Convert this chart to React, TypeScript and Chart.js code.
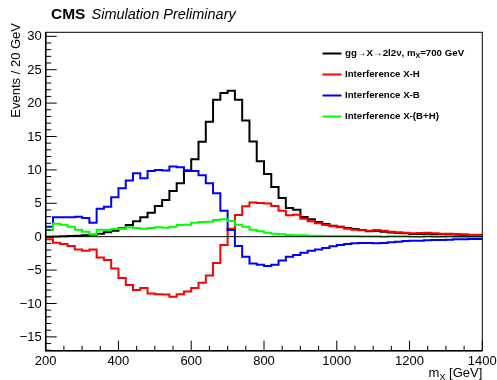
import { useEffect, useRef } from 'react';
import { Chart, registerables } from 'chart.js';

Chart.register(...registerables);

const X_MIN = 200;
const X_MAX = 1400;
const BIN_WIDTH = 20;
const Y_MIN = -17.07;
const Y_MAX = 30.6;

const X_MAJOR_TICKS = [200, 400, 600, 800, 1000, 1200, 1400];
const X_TICK_LABELS = ['200', '400', '600', '800', '1000', '1200', '1400'];
const X_MINOR_STEP = 50;
const Y_MAJOR_TICKS = [-15, -10, -5, 0, 5, 10, 15, 20, 25, 30];
const Y_TICK_LABELS = ['\u221215', '\u221210', '\u22125', '0', '5', '10', '15', '20', '25', '30'];
const Y_MINOR_STEP = 1;

const LEGEND_LABELS = ['gg\u2192X\u21922l2\u03bd, m', 'Interference X-H', 'Interference X-B', 'Interference X-(B+H)'];

// 60 bins of 20 GeV, 200-1400 GeV
const signal = [
  0.0, 0.02, 0.05, 0.1, 0.15, 0.2, 0.3, 0.45, 0.65, 0.9,
  1.25, 1.75, 2.3, 2.9, 3.6, 4.6, 5.5, 6.85, 8.0, 9.85,
  11.6, 14.2, 17.2, 20.5, 21.5, 21.85, 20.5, 17.4, 14.25, 11.3,
  9.4, 7.45, 5.8, 4.3, 4.05, 2.95, 2.6, 2.2, 1.9, 1.65,
  1.5, 1.3, 1.15, 1.0, 0.8, 0.85, 0.75, 0.62, 0.55, 0.5,
  0.42, 0.42, 0.45, 0.38, 0.35, 0.32, 0.28, 0.25, 0.22, 0.2,
];
const interfXH = [
  -0.4, -0.9, -1.1, -1.4, -1.9, -2.1, -1.9, -3.1, -3.5, -4.75,
  -6.2, -7.25, -8.0, -7.7, -8.5, -8.6, -8.65, -9.0, -8.6, -8.2,
  -7.7, -6.9, -5.8, -3.95, -1.25, 1.2, 3.25, 4.55, 5.1, 5.05,
  4.95, 4.6, 3.9, 3.2, 3.3, 2.7, 2.3, 2.0, 1.75, 1.55,
  1.4, 1.2, 1.05, 0.95, 0.9, 1.0, 0.9, 0.75, 0.65, 0.6,
  0.5, 0.55, 0.6, 0.5, 0.45, 0.45, 0.4, 0.35, 0.3, 0.3,
];
const interfXB = [
  1.5, 2.9, 2.9, 2.9, 3.0, 2.8, 2.1, 4.2, 4.5, 5.9,
  7.25, 8.4, 9.5, 8.75, 9.85, 10.0, 9.9, 10.5, 10.4, 9.95,
  9.85, 9.2, 8.0, 6.5, 3.9, 1.0, -1.4, -3.0, -4.0, -4.2,
  -4.4, -4.2, -3.55, -3.0, -2.75, -2.4, -2.1, -1.9, -1.7, -1.45,
  -1.25, -1.1, -1.0, -0.95, -0.95, -1.0, -0.95, -0.85, -0.75, -0.65,
  -0.6, -0.6, -0.55, -0.5, -0.5, -0.45, -0.4, -0.4, -0.35, -0.35,
];
const interfXBH = [
  1.0, 1.95, 1.8, 1.5, 1.05, 0.75, 0.35, 1.05, 1.0, 1.15,
  1.2, 1.4, 1.3, 1.2, 1.3, 1.4, 1.35, 1.5, 1.75, 1.8,
  2.1, 2.2, 2.25, 2.5, 2.6, 2.35, 1.8, 1.5, 1.05, 0.8,
  0.6, 0.45, 0.35, 0.25, 0.2, 0.2, 0.15, 0.15, 0.1, 0.1,
  0.1, 0.1, 0.1, 0.05, 0.05, 0.05, 0.0, 0.05, 0.05, 0.05,
  0.0, 0.0, 0.05, 0.0, 0.0, 0.05, 0.0, 0.0, 0.0, 0.0,
];

const COLORS = ['#000000', '#ff0000', '#0000ff', '#00ff00'];
const SERIES = [signal, interfXH, interfXB, interfXBH];

const FONT = "'Liberation Sans', Arial, Helvetica, sans-serif";

function toPoints(values: number[]) {
  const pts = values.map((v, i) => ({ x: X_MIN + i * BIN_WIDTH, y: v }));
  pts.push({ x: X_MAX, y: values[values.length - 1] });
  return pts;
}

const rootStylePlugin = {
  id: 'rootStyle',
  afterDatasetsDraw(chart: any) {
    const { ctx, chartArea, scales } = chart;
    const y0 = scales.y.getPixelForValue(0);
    ctx.save();
    ctx.strokeStyle = '#000';
    ctx.lineWidth = 1;
    ctx.beginPath();
    ctx.moveTo(chartArea.left, y0);
    ctx.lineTo(chartArea.right, y0);
    ctx.stroke();
    ctx.restore();
  },
  afterDraw(chart: any) {
    const { ctx, chartArea, scales } = chart;
    const { left, right, top, bottom } = chartArea;
    const xs = scales.x;
    const ys = scales.y;
    ctx.save();
    ctx.strokeStyle = '#000';
    ctx.fillStyle = '#000';

    // frame
    ctx.lineWidth = 1;
    ctx.strokeRect(left, top, right - left, bottom - top);
    ctx.lineWidth = 1.5;
    ctx.beginPath();
    ctx.moveTo(left, top);
    ctx.lineTo(left, bottom);
    ctx.lineTo(right, bottom);
    ctx.stroke();

    // x ticks
    ctx.lineWidth = 1;
    ctx.beginPath();
    for (let v = X_MIN; v <= X_MAX + 0.001; v += X_MINOR_STEP) {
      const px = xs.getPixelForValue(v);
      const major = X_MAJOR_TICKS.includes(v);
      ctx.moveTo(px, bottom);
      ctx.lineTo(px, bottom - (major ? 10 : 5));
    }
    // y ticks
    for (let v = Math.ceil(Y_MIN); v <= Y_MAX; v += Y_MINOR_STEP) {
      const py = ys.getPixelForValue(v);
      const major = Y_MAJOR_TICKS.includes(v);
      ctx.moveTo(left, py);
      ctx.lineTo(left + (major ? 11 : 5.5), py);
    }
    ctx.stroke();

    // tick labels
    ctx.font = `13px ${FONT}`;
    ctx.textAlign = 'center';
    ctx.textBaseline = 'alphabetic';
    X_MAJOR_TICKS.forEach((v, i) => {
      ctx.fillText(X_TICK_LABELS[i], xs.getPixelForValue(v), 365);
    });
    ctx.textAlign = 'right';
    ctx.textBaseline = 'middle';
    Y_MAJOR_TICKS.forEach((v, i) => {
      ctx.fillText(Y_TICK_LABELS[i], left - 4, ys.getPixelForValue(v) + 0.5);
    });

    // y title
    ctx.save();
    ctx.translate(20, 23);
    ctx.rotate(-Math.PI / 2);
    ctx.textAlign = 'right';
    ctx.textBaseline = 'alphabetic';
    ctx.font = `13px ${FONT}`;
    ctx.fillText('Events / 20 GeV', 0, 0);
    ctx.restore();

    // x title: m_X [GeV], right aligned
    ctx.textBaseline = 'alphabetic';
    ctx.textAlign = 'left';
    ctx.font = `13px ${FONT}`;
    const tail = ' [GeV]';
    const wTail = ctx.measureText(tail).width;
    const wM = ctx.measureText('m').width;
    ctx.font = `9px ${FONT}`;
    const wSub = ctx.measureText('X').width;
    const xEnd = right;
    const xStart = xEnd - wTail - wSub - wM;
    ctx.font = `13px ${FONT}`;
    ctx.fillText('m', xStart, 377);
    ctx.fillText(tail, xStart + wM + wSub, 377);
    ctx.font = `9px ${FONT}`;
    ctx.fillText('X', xStart + wM, 380);

    // CMS label
    ctx.font = `bold 15.5px ${FONT}`;
    ctx.fillText('CMS', 51, 19);
    ctx.font = `italic 14.5px ${FONT}`;
    ctx.fillText('Simulation Preliminary', 91.5, 19);

    // legend
    const rowsY = [53.5, 74.5, 95.5, 116.5];
    LEGEND_LABELS.forEach((label, i) => {
      const y = rowsY[i];
      ctx.strokeStyle = COLORS[i];
      ctx.lineWidth = 2;
      ctx.beginPath();
      ctx.moveTo(322.5, y);
      ctx.lineTo(341.5, y);
      ctx.stroke();
      ctx.fillStyle = '#000';
      ctx.textBaseline = 'middle';
      ctx.font = `bold 9.7px ${FONT}`;
      let x = 345;
      ctx.fillText(label, x, y);
      if (i === 0) {
        x += ctx.measureText(label).width;
        ctx.font = `bold 7px ${FONT}`;
        ctx.fillText('X', x, y + 2.5);
        x += ctx.measureText('X').width;
        ctx.font = `bold 9.7px ${FONT}`;
        ctx.fillText('=700 GeV', x, y);
      }
    });
    ctx.restore();
  },
};

export default function App() {
  const canvasRef = useRef<HTMLCanvasElement | null>(null);

  useEffect(() => {
    if (!canvasRef.current) return;
    const datasets = SERIES.map((values, i) => ({
      label: LEGEND_LABELS[i],
      data: toPoints(values),
      borderColor: COLORS[i],
      backgroundColor: COLORS[i],
      borderWidth: 2,
      stepped: 'before' as const,
      fill: false,
      pointRadius: 0,
      borderJoinStyle: 'miter' as const,
      order: SERIES.length - i,
    }));
    const chart = new Chart(canvasRef.current, {
      type: 'line',
      data: { datasets },
      options: {
        animation: false,
        responsive: false,
        devicePixelRatio: 1,
        layout: { padding: { left: 45.7, right: 14.7, top: 32.3, bottom: 29.3 } },
        scales: {
          x: { type: 'linear', min: X_MIN, max: X_MAX, display: false },
          y: { type: 'linear', min: Y_MIN, max: Y_MAX, display: false },
        },
        plugins: {
          legend: { display: false },
          tooltip: { enabled: false },
        },
      },
      plugins: [rootStylePlugin],
    });
    return () => chart.destroy();
  }, []);

  return (
    <div style={{ position: 'absolute', left: 0, top: 0, width: 497, height: 380, background: '#fff' }}>
      <canvas ref={canvasRef} width={497} height={380} />
    </div>
  );
}
